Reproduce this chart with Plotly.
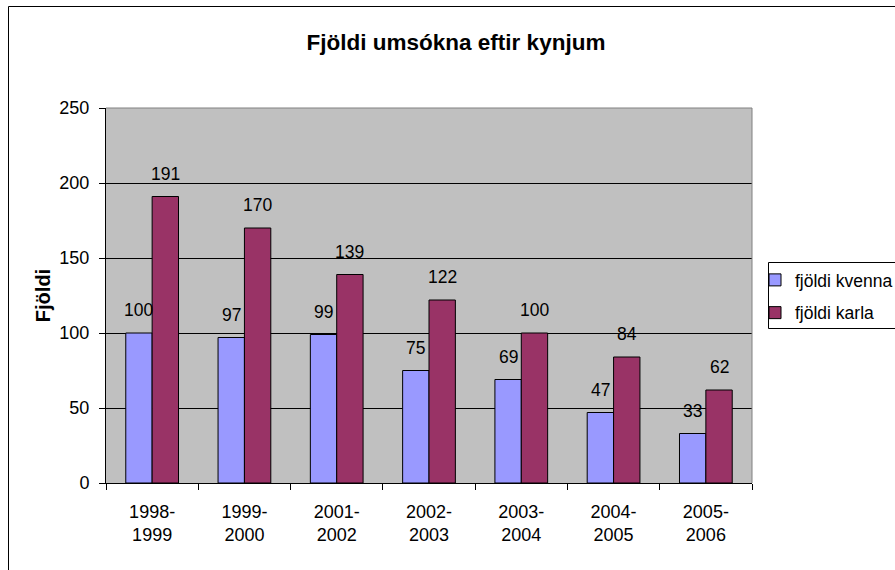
import plotly.graph_objects as go

categories = ["1998-<br>1999", "1999-<br>2000", "2001-<br>2002", "2002-<br>2003",
              "2003-<br>2004", "2004-<br>2005", "2005-<br>2006"]
kvenna = [100, 97, 99, 75, 69, 47, 33]
karla = [191, 170, 139, 122, 100, 84, 62]
series_names = ["fjöldi kvenna", "fjöldi karla"]
title_text = "Fjöldi umsókna eftir kynjum"
y_title = "Fjöldi"

FONT = "Liberation Sans, Arial, sans-serif"
W, H = 895, 570
L, R, T, B = 106, 143, 108, 87
PW, PH = W - L - R, H - T - B

def px_x(px):
    return (px - L) / PW

def px_y(py):
    return (H - B - py) / PH

fig = go.Figure()
fig.add_trace(go.Bar(x=categories, y=kvenna, name=series_names[0], legendgroup="a",
                     marker=dict(color="#9999FF", line=dict(color="black", width=1))))
fig.add_trace(go.Bar(x=categories, y=karla, name=series_names[1], legendgroup="b",
                     marker=dict(color="#993366", line=dict(color="black", width=1))))

annotations = []
bar_w = PW / len(categories) / 3.5
for vals, sh in ((kvenna, -bar_w / 2), (karla, bar_w / 2)):
    for c, v in zip(categories, vals):
        annotations.append(dict(x=c, y=v, xref="x", yref="y", text=str(v), showarrow=False,
                                xshift=sh, yshift=23, yanchor="middle", xanchor="center",
                                font=dict(family=FONT, size=17.5, color="black")))

shapes = [
    # outer chart frame
    dict(type="rect", xref="paper", yref="paper", x0=px_x(8.5), x1=px_x(905),
         y0=px_y(6.5), y1=px_y(580), line=dict(color="black", width=1), layer="below"),
    # legend frame
    dict(type="rect", xref="paper", yref="paper", x0=px_x(768.5), x1=px_x(905),
         y0=px_y(262.5), y1=px_y(328.5), line=dict(color="black", width=1),
         fillcolor="white", layer="below"),
    # plot area gray border (top, right)
    dict(type="line", xref="paper", yref="paper", x0=0, x1=1, y0=1, y1=1,
         line=dict(color="#808080", width=1), layer="above"),
    dict(type="line", xref="paper", yref="paper", x0=1, x1=1, y0=0, y1=1,
         line=dict(color="#808080", width=1), layer="above"),
]

fig.update_layout(
    width=W, height=H,
    margin=dict(l=L, r=R, t=T, b=B, autoexpand=False),
    paper_bgcolor="white",
    plot_bgcolor="#C0C0C0",
    barmode="group",
    bargap=1.5 / 3.5,
    bargroupgap=0,
    font=dict(family=FONT, size=18, color="black"),
    title=dict(text="<b>" + title_text + "</b>", xref="container", x=456 / W, xanchor="center",
               y=1 - 42 / H, yanchor="middle", font=dict(family=FONT, size=22.5, color="black")),
    legend=dict(x=px_x(755), xanchor="left", y=px_y(262), yanchor="top",
                bgcolor="rgba(0,0,0,0)", borderwidth=0,
                font=dict(family=FONT, size=17.5, color="black"),
                traceorder="grouped", tracegroupgap=7),
    annotations=annotations,
    shapes=shapes,
    showlegend=True,
)

fig.update_xaxes(showline=True, linecolor="black", linewidth=1,
                 ticks="outside", ticklen=6, tickcolor="black", tickson="boundaries",
                 showgrid=False, ticklabelstandoff=12,
                 tickfont=dict(family=FONT, size=18, color="black"), automargin=False)
fig.update_yaxes(range=[0, 250], dtick=50, tick0=0, showline=True, linecolor="black", linewidth=1,
                 ticks="outside", ticklen=6, tickcolor="black",
                 showgrid=True, gridcolor="black", gridwidth=1, zeroline=False,
                 ticklabelstandoff=6,
                 tickfont=dict(family=FONT, size=18, color="black"),
                 title=dict(text="<b>" + y_title + "</b>", standoff=3,
                            font=dict(family=FONT, size=20, color="black")),
                 automargin=False)

fig.write_html("out.html", config={"displayModeBar": False},
               post_script="document.body.style.margin='0px';document.body.style.overflow='hidden';")
